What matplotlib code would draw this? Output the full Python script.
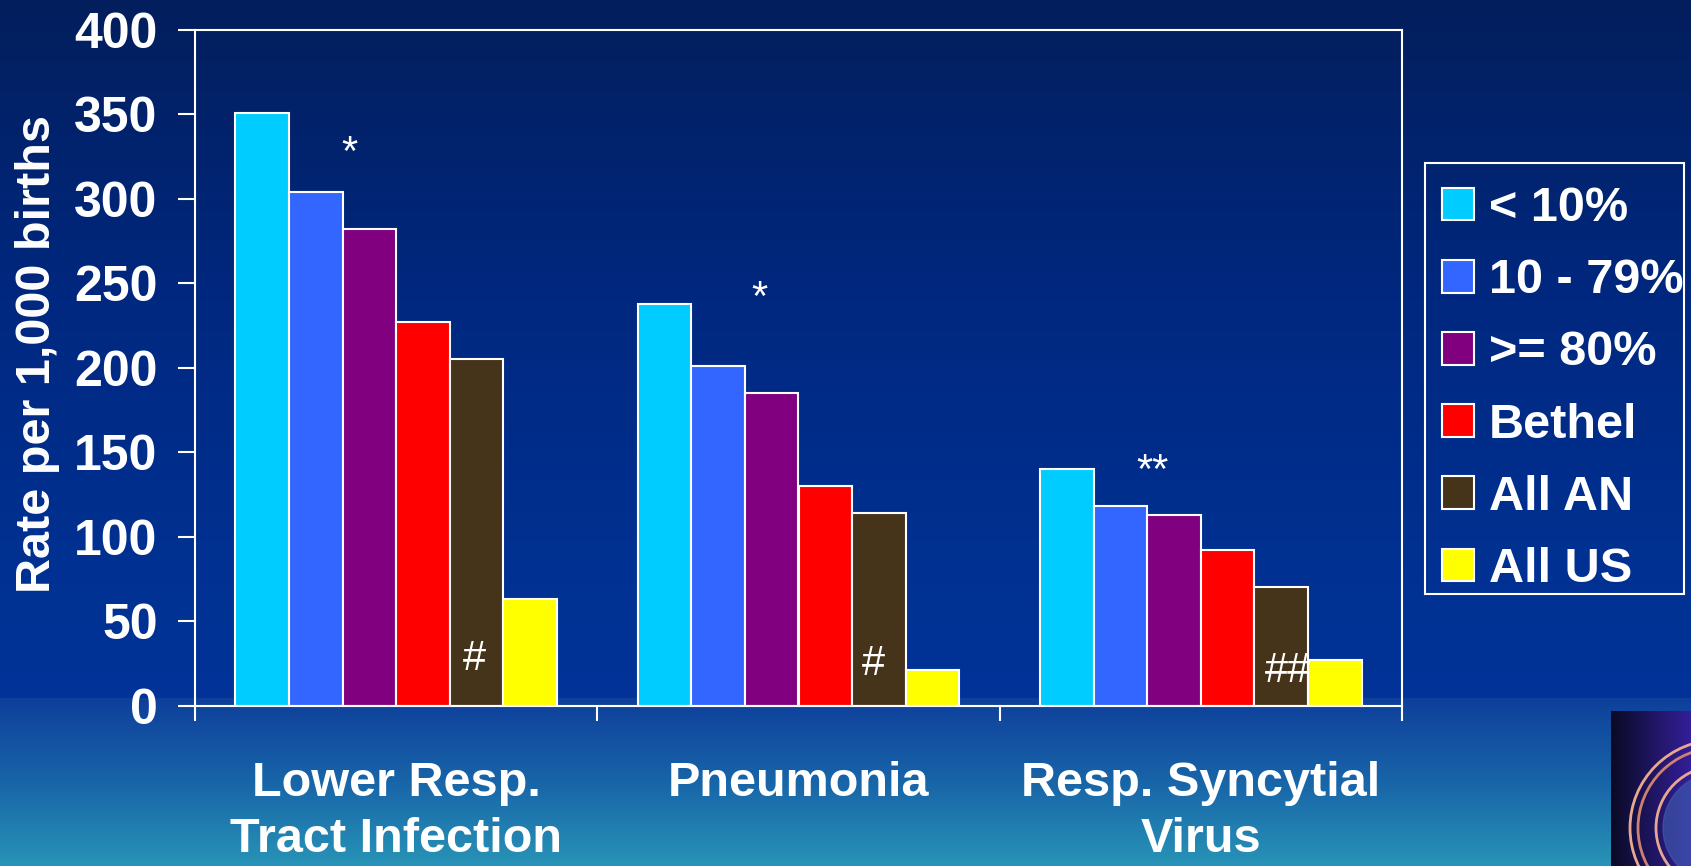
import numpy as np
import matplotlib
import matplotlib.pyplot as plt
from matplotlib.patches import Circle, Rectangle

matplotlib.use('Agg')
plt.rcParams['font.family'] = ['Liberation Sans', 'DejaVu Sans']
plt.rcParams['font.weight'] = 'bold'

# data
categories = ['Lower Resp.\nTract Infection', 'Pneumonia', 'Resp. Syncytial\nVirus']
groups = ['< 10%', '10 - 79%', '>= 80%', 'Bethel', 'All AN', 'All US']
colors = ['#00CCFF', '#3366FF', '#800080', '#FF0000', '#46341A', '#FFFF00']
lrti = [351, 304, 282, 227, 205, 63]
pneumonia = [238, 201, 185, 130, 114, 21]
rsv = [140, 118, 113, 92, 70, 27]
rates = [lrti, pneumonia, rsv]

# significance marks drawn over the bars
note_text = ['*', '*', '**', '#', '#', '##']
note_cat = [0, 1, 2, 0, 1, 2]
note_dx = [-0.116, -0.098, -0.121, 0.195, 0.187, 0.217]
note_y = [320, 234, 132, 21, 18, 14]

W, H = 1691, 866
fig = plt.figure(figsize=(W / 100, H / 100), dpi=100)

# slide background: navy gradient, then a lighter teal band at the bottom
bg = fig.add_axes([0, 0, 1, 1])
yy = np.arange(H)
stops_y = [0, 300, 600, 697, 698, 780, 866]
stops_c = np.array([[3, 30, 92], [0, 40, 128], [0, 50, 148], [0, 51, 152],
                    [14, 63, 155], [24, 100, 168], [40, 148, 183]]) / 255
grad = np.stack([np.interp(yy, stops_y, stops_c[:, k]) for k in range(3)], axis=1)
grad = np.repeat(grad[:, None, :], 8, axis=1)
bg.imshow(grad, aspect='auto', extent=[0, W, H, 0])

# corner logo (dark seal, partially cut off)
lx = np.linspace(0, 1, 40)
logo = np.stack([0.04 + 0.16 * lx, 0.04 + 0.08 * lx, 0.15 + 0.45 * lx], axis=1)
logo = np.repeat(logo[None, :, :], 10, axis=0)
bg.imshow(logo, aspect='auto', extent=[1611, W, H, 711])
for r, c in [(88, '#e8a890'), (80, '#d08070'), (62, '#e8a890')]:
    bg.add_patch(Circle((1718, 828), r, fill=False, ec=c, lw=2))
bg.add_patch(Circle((1718, 828), 55, color='#4060b0', alpha=0.6))

# legend box outline
bg.add_patch(Rectangle((1425, 163), 259, 431, fill=False, ec='white', lw=1.5))
bg.set_xlim(0, W)
bg.set_ylim(H, 0)
bg.axis('off')

ax = fig.add_axes([195 / W, 1 - 705.7 / H, (1402 - 195) / W, (705.7 - 30) / H])
ax.set_facecolor('none')

n = len(groups)
width = 0.8 / n
x = np.arange(len(categories))
for i in range(n):
    vals = [r[i] for r in rates]
    ax.bar(x - 0.4 + width * (i + 0.5), vals, width, color=colors[i],
           edgecolor='white', linewidth=1.5, label=groups[i])

for t, c, dx, y in zip(note_text, note_cat, note_dx, note_y):
    ax.text(c + dx, y, t, ha='center', va='baseline', color='white',
            fontsize=30, fontweight='normal')

ax.set_xlim(-0.5, 2.5)
ax.set_ylim(0, 400)
for s in ax.spines.values():
    s.set_color('white')
    s.set_linewidth(1.5)

ax.set_yticks(range(0, 401, 50))
ax.tick_params(axis='y', colors='white', length=12, width=1.5, pad=15, labelsize=36)

ax.set_xticks([-0.5, 0.5, 1.5, 2.5])
ax.set_xticklabels([])
ax.set_xticks(x, minor=True)
ax.set_xticklabels(categories, minor=True)
ax.tick_params(axis='x', which='major', colors='white', length=11, width=1.5)
ax.tick_params(axis='x', which='minor', colors='white', length=0, pad=40, labelsize=35)
for lab in ax.get_xticklabels(minor=True):
    lab.set_linespacing(1.32)

fig.text(38 / W, 1 - 354 / H, 'Rate per 1,000 births', rotation=90,
         ha='center', va='center', fontsize=35, color='white')

leg = fig.legend(loc='upper left', bbox_to_anchor=(1442 / W, 1 - 186 / H),
                 borderaxespad=0, borderpad=0, fontsize=35, frameon=False,
                 handlelength=0.66, handleheight=0.66, handletextpad=0.3,
                 labelspacing=0.56, labelcolor='white')
for h in leg.legend_handles:
    h.set_edgecolor('white')

fig.savefig('out.png', dpi=100)
